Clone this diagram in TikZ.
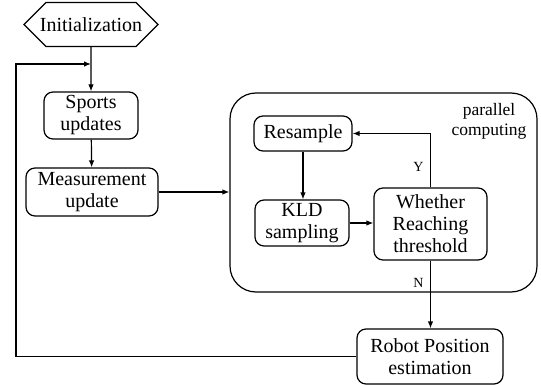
\documentclass[tikz,border=0pt]{standalone}
\usepackage{fontspec}
\setmainfont{Liberation Serif}
\usetikzlibrary{arrows.meta,shapes.misc}
\begin{document}
\begin{tikzpicture}[x=1pt,y=-1pt]
\tikzset{box/.style={draw, line width=1.2pt, rounded corners=9pt, align=center, inner sep=1pt,
	font=\fontsize{20}{22}\selectfont},
	arr/.style={line width=1.2pt, -{Latex[length=7pt,width=5.5pt]}},
	yn/.style={font=\fontsize{14}{16}\selectfont}}
\useasboundingbox (0,0) rectangle (541,385);
% left column
\node[box, rounded corners=0pt, chamfered rectangle, chamfered rectangle xsep=12pt,
	chamfered rectangle ysep=14pt, minimum width=134pt, minimum height=33pt] (init) at (91,24.5) {Initialization};
\node[box, minimum width=94pt, minimum height=47pt] (sports) at (91,115.5) {Sports\\updates};
\node[box, minimum width=132pt, minimum height=48pt] (meas) at (92,192) {Measurement\\update};
% parallel part
\node[draw, line width=1.2pt, rounded corners=26pt, minimum width=307pt, minimum height=199pt] (par) at (383.5,192.5) {};
\node[align=center, font=\fontsize{17.5}{20}\selectfont] (pc) at (489,121) {parallel\\computing};
\node[box, minimum width=98pt, minimum height=35pt] (resample) at (303,133.5) {Resample};
\node[box, minimum width=94pt, minimum height=46pt] (kld) at (302,223) {KLD\\sampling};
\node[box, minimum width=113pt, minimum height=72pt] (whether) at (430.5,224) {Whether\\Reaching\\threshold};
\node[box, minimum width=146pt, minimum height=55pt] (robot) at (430,356.5) {Robot Position\\estimation};
\coordinate (fb) at (16,64);
% connectors
\draw[arr] (init) -- (sports);
\draw[arr] (sports) -- (meas);
\draw[arr] (meas.east) -- (meas.east -| par.west);
\draw[arr] (resample.south) -- (resample.south |- kld.north);
\draw[arr] (kld) -- (kld -| whether.west);
\draw[arr] (whether.north) |- (resample.east) node[yn, pos=0.19, left=3pt] {Y};
\draw[arr] (whether.south) -- (whether.south |- robot.north) node[yn, pos=0.33, left=3pt] {N};
\draw[arr] (robot.west) -| (fb) -- (fb -| init.south);
\end{tikzpicture}
\end{document}
